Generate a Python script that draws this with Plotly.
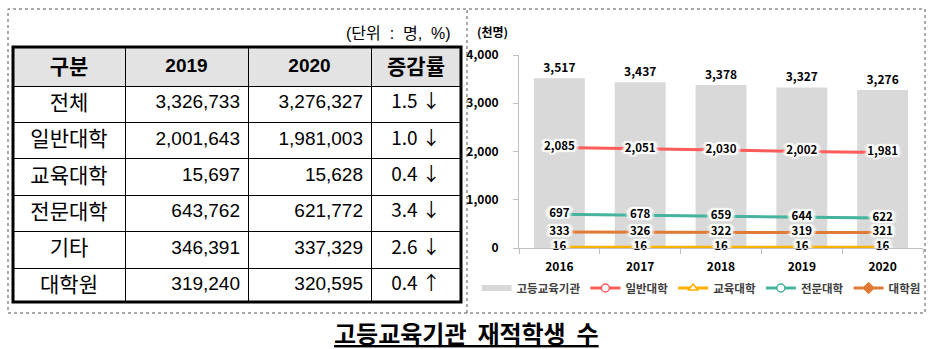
import plotly.graph_objects as go

# ---------------- data ----------------
table_header = ["구분", "2019", "2020", "증감률"]
table_categories = ["전체", "일반대학", "교육대학", "전문대학", "기타", "대학원"]
students_2019 = [3326733, 2001643, 15697, 643762, 346391, 319240]
students_2020 = [3276327, 1981003, 15628, 621772, 337329, 320595]
change_rate = [1.5, 1.0, 0.4, 3.4, 2.6, 0.4]
change_dir = ["↓", "↓", "↓", "↓", "↓", "↑"]
table_unit = "(단위 : 명, %)"

years = ["2016", "2017", "2018", "2019", "2020"]
total_inst = [3517, 3437, 3378, 3327, 3276]
univ = [2085, 2051, 2030, 2002, 1981]
edu_univ = [16, 16, 16, 16, 16]
college = [697, 678, 659, 644, 622]
grad = [333, 326, 322, 319, 321]
series_names = ["고등교육기관", "일반대학", "교육대학", "전문대학", "대학원"]
chart_unit = "(천명)"
caption = "고등교육기관 재적학생 수"

# ---------------- styling ----------------
W, H = 933, 349
def px(x):
    return x / W
def py(y):
    return 1 - y / H

NB = "\u00a0"
KR = "Noto Sans CJK KR"
TBL_FONT = "Liberation Sans, Noto Sans CJK KR"
BAR_COLOR = "#d9d9d9"
AXIS_COLOR = "#bfbfbf"
line_colors = {"일반대학": "#ff5b5b", "교육대학": "#ffb000",
               "전문대학": "#45b39d", "대학원": "#e07b35"}
line_symbols = {"일반대학": "circle", "교육대학": "triangle-up",
                "전문대학": "circle", "대학원": "diamond"}
line_fill = {"일반대학": "white", "교육대학": "white",
             "전문대학": "white", "대학원": None}
GLOW = ("2px 0 1px #fff, -2px 0 1px #fff, 0 2px 1px #fff, 0 -2px 1px #fff, "
        "2px 2px 1px #fff, -2px -2px 1px #fff, 2px -2px 1px #fff, -2px 2px 1px #fff, "
        "4px 0 2px #fff, -4px 0 2px #fff")

fig = go.Figure()

# ---------------- table ----------------
fig.add_trace(go.Table(
    domain=dict(x=[px(13), px(461)], y=[py(302), py(47)]),
    columnwidth=[112, 123, 123, 90],
    header=dict(
        values=[f"<b>{h}</b>" for h in table_header],
        fill_color="#e3e3e3",
        line=dict(color="black", width=1),
        align="center",
        font=dict(family=TBL_FONT, size=[21, 19, 19, 21], color="black"),
        height=36,
    ),
    cells=dict(
        values=[
            table_categories,
            [f"{v:,}" for v in students_2019],
            [f"{v:,}" for v in students_2020],
            [f"{r:.1f} {d}" for r, d in zip(change_rate, change_dir)],
        ],
        align=["center", "right", "right", "center"],
        fill_color="white",
        line=dict(color="black", width=1),
        font=dict(family=[TBL_FONT, TBL_FONT, TBL_FONT, KR],
                  size=[21, 19, 19, 19], color="black"),
        height=36.4,
    ),
))

# ---------------- chart ----------------
fig.add_trace(go.Bar(
    x=years, y=total_inst, name=series_names[0],
    marker=dict(color=BAR_COLOR, line=dict(width=0)),
    width=0.63,
    text=[f"{v:,}" for v in total_inst], textposition="outside",
    textfont=dict(family=KR, size=12, color="black", weight="bold"),
    cliponaxis=False, showlegend=False,
))

line_data = {"일반대학": univ, "교육대학": edu_univ, "전문대학": college, "대학원": grad}
for name in ["대학원", "교육대학", "전문대학", "일반대학"]:
    vals = line_data[name]
    fig.add_trace(go.Scatter(
        x=years, y=vals, mode="lines+text", name=name,
        line=dict(color=line_colors[name], width=3),
        text=[f"{v:,}" for v in vals], textposition="middle center",
        textfont=dict(family=KR, size=11.5, color="black", weight="bold", shadow=GLOW),
        cliponaxis=False, showlegend=False,
    ))

# legend entries
fig.add_trace(go.Scatter(x=[None], y=[None], mode="lines", name=series_names[0],
                         line=dict(color=BAR_COLOR, width=6)))
for name in series_names[1:]:
    fc = line_fill[name] or line_colors[name]
    fig.add_trace(go.Scatter(
        x=[None], y=[None], mode="lines+markers", name=name,
        line=dict(color=line_colors[name], width=3),
        marker=dict(symbol=line_symbols[name], size=8, color=fc,
                    line=dict(color=line_colors[name], width=1.5)),
    ))

fig.update_layout(
    width=W, height=H, margin=dict(l=0, r=0, t=0, b=0, pad=0, autoexpand=False),
    paper_bgcolor="white", plot_bgcolor="rgba(0,0,0,0)",
    xaxis=dict(domain=[px(519), px(923)], type="category", range=[-0.5, 4.5],
               automargin=False,
               showline=True, linecolor=AXIS_COLOR, linewidth=1,
               ticks="outside", tickson="boundaries", ticklen=5, tickcolor=AXIS_COLOR,
               tickfont=dict(family=KR, size=12, color="black", weight="bold"),
               ticklabelstandoff=8, showgrid=False, zeroline=False, fixedrange=True),
    yaxis=dict(domain=[py(248), py(55)], range=[0, 4000], dtick=1000, tickformat=",",
               automargin=False,
               showline=True, linecolor=AXIS_COLOR, linewidth=1,
               ticks="outside", ticklen=5, tickcolor=AXIS_COLOR,
               tickfont=dict(family=KR, size=12, color="black", weight="bold"),
               ticklabelstandoff=12, showgrid=False, zeroline=False, fixedrange=True),
    legend=dict(orientation="h", x=px(701), xanchor="center", y=py(288), yanchor="middle",
                font=dict(family=KR, size=11.5, color="#404040", weight="bold"),
                itemwidth=30, bgcolor="rgba(0,0,0,0)", traceorder="normal"),
    shapes=[
        dict(type="rect", xref="paper", yref="paper", x0=px(8), x1=px(925), y0=py(313), y1=py(9),
             line=dict(color="#555555", width=1, dash="dot")),
        dict(type="line", xref="paper", yref="paper", x0=px(467), x1=px(467), y0=py(313), y1=py(9),
             line=dict(color="#555555", width=1, dash="dot")),
        dict(type="rect", xref="paper", yref="paper", x0=px(13), x1=px(461), y0=py(302), y1=py(47),
             line=dict(color="black", width=3)),
    ],
    annotations=[
        dict(text=table_unit.replace(" ", NB + NB), xref="paper", yref="paper", x=px(453), y=py(33),
             xanchor="right", yanchor="middle", showarrow=False,
             font=dict(family=TBL_FONT, size=16, color="black")),
        dict(text=chart_unit, xref="paper", yref="paper", x=px(475), y=py(31),
             xanchor="left", yanchor="middle", showarrow=False,
             font=dict(family=KR, size=12, color="black", weight="bold")),
        dict(text=caption.replace(" ", NB + NB), xref="paper", yref="paper", x=px(466), y=py(332),
             xanchor="center", yanchor="middle", showarrow=False,
             font=dict(family=KR, size=24, color="black", weight="bold", lineposition="under")),
    ],
)

fig.write_html("out.html")
